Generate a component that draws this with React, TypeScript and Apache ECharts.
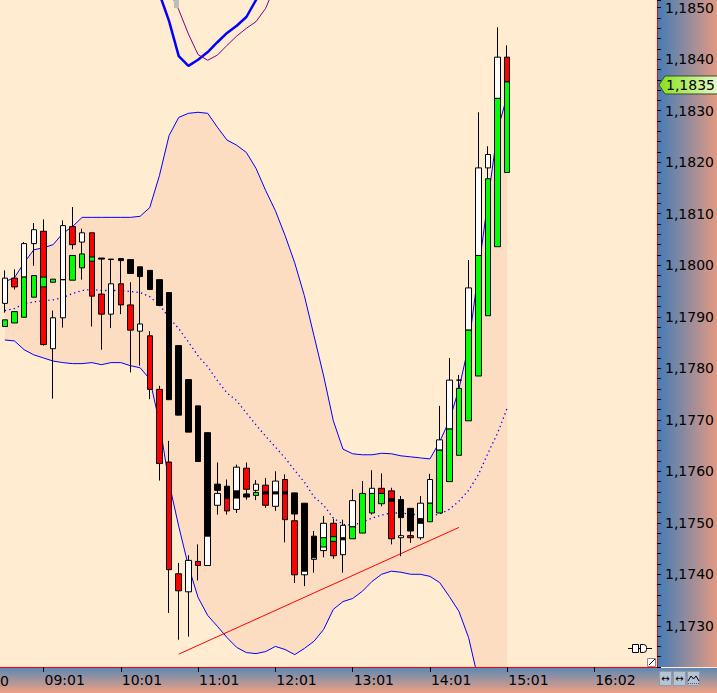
import React, { useEffect, useRef } from "react";
import * as echarts from "echarts";

// ---------- axis / slots ----------
const SLOT_COUNT = 68;
const tickSlots = [4, 12, 20, 28, 36, 44, 52, 61];
const tickLabels = ["09:01", "10:01", "11:01", "12:01", "13:01", "14:01", "15:01", "16:02"];

// ---------- candle series A (main bodies with wicks) ----------
const aTop = [1.17975, 1.17975, 1.18042, 1.18069, 1.18066, 1.17898, 1.18077, 1.18075, 1.18063, 1.18063, 1.17944, 1.17964, 1.17964, 1.17923, 1.17886, 1.17863, 1.17759, 1.17618, 1.17401, 1.17427, 1.17425, 1.17675, 1.17557, 1.17548, 1.17608, 1.17606, 1.17575, 1.17573, 1.17581, 1.17584, 1.17504, 1.17538, 1.17474, 1.17499, 1.17499, 1.17495, 1.17543, 1.17557, 1.17567, 1.17567, 1.17562, 1.17545, 1.17528, 1.17538, 1.17584, 1.17661, 1.17777, 1.17761, 1.17956, 1.18189, 1.18215, 1.18404, 1.18404];
const aBottom = [1.17926, 1.17958, 1.17977, 1.18042, 1.17846, 1.17838, 1.17898, 1.1804, 1.18045, 1.1794, 1.17905, 1.17905, 1.17923, 1.17874, 1.17872, 1.17759, 1.17615, 1.17409, 1.17368, 1.17366, 1.17417, 1.17474, 1.17534, 1.17523, 1.17526, 1.17565, 1.17563, 1.17534, 1.17532, 1.17506, 1.17399, 1.17406, 1.17432, 1.17446, 1.17436, 1.17438, 1.17492, 1.1748, 1.17557, 1.17557, 1.17469, 1.1751, 1.17484, 1.17471, 1.17538, 1.17641, 1.17682, 1.17631, 1.17874, 1.18019, 1.18189, 1.18324, 1.18356];
const aLow = [1.17908, 1.17953, 1.17977, 1.17999, 1.17844, 1.17741, 1.17879, 1.18031, 1.17972, 1.17881, 1.17836, 1.17878, 1.17905, 1.17792, 1.17805, 1.1774, 1.17582, 1.17325, 1.17273, 1.17279, 1.17388, 1.17474, 1.17516, 1.17516, 1.17519, 1.17545, 1.17544, 1.17529, 1.17523, 1.17462, 1.17383, 1.17377, 1.17403, 1.17433, 1.1743, 1.17403, 1.17492, 1.1748, 1.17516, 1.17532, 1.17458, 1.17435, 1.17461, 1.17467, 1.17538, 1.17641, 1.17682, 1.17631, 1.17874, 1.18019, 1.18168, 1.18324, 1.18356];
const aHigh = [1.1799, 1.17992, 1.18045, 1.18082, 1.18089, 1.17912, 1.18087, 1.18113, 1.18071, 1.18063, 1.18013, 1.18011, 1.18009, 1.17967, 1.17978, 1.17872, 1.17766, 1.17659, 1.17422, 1.17437, 1.17458, 1.17675, 1.17617, 1.17584, 1.17613, 1.17617, 1.17583, 1.17587, 1.176, 1.17594, 1.17558, 1.17538, 1.17484, 1.17513, 1.17508, 1.17506, 1.17565, 1.17581, 1.17602, 1.17596, 1.17568, 1.17552, 1.17528, 1.17552, 1.17595, 1.17727, 1.1782, 1.17787, 1.1801, 1.18297, 1.18231, 1.18462, 1.18427];
const aColor = ["w", "r", "w", "w", "r", "w", "w", "r", "w", "r", "r", "w", "r", "r", "w", "r", "r", "r", "r", "w", "r", "k", "w", "r", "w", "r", "w", "r", "w", "r", "r", "k", "k", "w", "r", "w", "w", "g", "w", "r", "r", "k", "k", "w", "w", "w", "w", "g", "w", "w", "w", "w", "r"];

// ---------- candle series B (overlay bodies) ----------
const bTop = [1.17894, 1.1791, 1.17977, 1.1798, 1.17977, 1.17973, 1.17972, 1.18019, 1.18022, 1.18016, 1.18014, 1.18012, 1.18013, 1.18011, 1.17997, 1.1799, 1.17972, 1.17947, 1.17844, 1.17778, 1.17727, 1.17474, 1.17575, 1.17571, 1.17562, 1.17556, 1.17559, 1.1756, 1.1756, 1.1756, 1.17558, 1.17406, 1.17432, 1.17471, 1.17473, 1.17471, 1.17492, null, 1.17557, 1.17557, 1.17547, 1.17475, 1.17475, 1.17508, 1.17538, 1.17641, 1.17682, 1.17777, 1.17874, 1.18019, 1.18168, 1.18324, 1.18356];
const bBottom = [1.17881, 1.17888, 1.17899, 1.17938, 1.17958, 1.17967, 1.17972, 1.17971, 1.17995, 1.18008, 1.18012, 1.18011, 1.18009, 1.17984, 1.17978, 1.17953, 1.17922, 1.17739, 1.17709, 1.17676, 1.17619, 1.17417, 1.17563, 1.17548, 1.17548, 1.1755, 1.17553, 1.17556, 1.17556, 1.17556, 1.17517, 1.17399, 1.17429, 1.17453, 1.17464, 1.17467, 1.17469, null, 1.17519, 1.17537, 1.17542, 1.17471, 1.17471, 1.17499, 1.17502, 1.17519, 1.1758, 1.17777, 1.17698, 1.17785, 1.17902, 1.18036, 1.1818];
const bColor = ["g", "g", "g", "g", "g", "g", "k", "g", "g", "g", "k", "k", "k", "k", "k", "k", "k", "k", "k", "k", "k", "w", "k", "k", "k", "k", "g", "k", "k", "k", "k", "w", "w", "g", "g", "k", "g", "", "g", "g", "k", "w", "r", "k", "g", "g", "g", "k", "g", "g", "g", "g", "g"];

// ---------- Bollinger-style bands ----------
const upperBand = [1.17968, 1.17976, 1.18005, 1.1803, 1.18034, 1.1804, 1.18062, 1.18075, 1.18093, 1.18093, 1.18093, 1.18093, 1.18093, 1.18093, 1.18095, 1.18112, 1.18174, 1.18252, 1.18287, 1.18295, 1.18297, 1.18295, 1.18268, 1.18243, 1.18233, 1.18219, 1.18188, 1.18145, 1.18106, 1.18058, 1.18005, 1.17941, 1.17863, 1.17785, 1.17698, 1.17643, 1.17634, 1.17632, 1.17632, 1.17635, 1.17634, 1.1763, 1.17628, 1.17626, 1.17624, 1.17657, 1.17698, 1.1776, 1.17844, 1.17986, 1.18126, 1.18262, 1.1833];
const lowerBand = [1.17855, 1.17853, 1.17836, 1.17826, 1.1782, 1.17814, 1.17811, 1.17809, 1.17809, 1.17811, 1.17807, 1.17811, 1.17811, 1.17805, 1.17801, 1.17779, 1.17694, 1.17577, 1.17493, 1.17416, 1.17355, 1.1732, 1.17299, 1.17277, 1.17258, 1.17248, 1.17246, 1.1725, 1.1726, 1.17254, 1.17244, 1.17256, 1.1727, 1.17293, 1.17332, 1.17347, 1.17353, 1.17367, 1.17386, 1.174, 1.17406, 1.17404, 1.174, 1.174, 1.17396, 1.17384, 1.17357, 1.17328, 1.17277, 1.17196, 1.17085, 1.17017, 1.16958];
const middleBand = [1.17912, 1.17916, 1.17925, 1.17929, 1.17931, 1.17933, 1.17937, 1.17945, 1.17951, 1.17953, 1.17951, 1.17951, 1.17951, 1.17949, 1.17947, 1.17939, 1.17923, 1.17898, 1.17877, 1.17851, 1.17824, 1.17803, 1.17776, 1.17752, 1.17737, 1.17713, 1.1769, 1.17668, 1.17647, 1.17626, 1.17602, 1.17579, 1.1755, 1.17534, 1.17509, 1.17497, 1.17495, 1.17501, 1.17509, 1.17515, 1.17519, 1.17519, 1.17517, 1.17515, 1.17513, 1.17517, 1.17526, 1.17542, 1.17563, 1.17593, 1.17635, 1.17674, 1.17723];

// ---------- upper indicator lines (V shape at the top) ----------
const vBlueStart = 15;
const vBlueValues = [1.18577, 1.18527, 1.18474, 1.18406, 1.18387, 1.18399, 1.18414, 1.18433, 1.18451, 1.18465, 1.18482, 1.18515, 1.18562];
const vPurpleStart = 16;
const vPurpleValues = [1.18583, 1.18534, 1.18496, 1.18449, 1.18409, 1.18398, 1.18408, 1.18427, 1.18445, 1.1846, 1.18473, 1.18499, 1.18544];

// ---------- trend line ----------
const trendSlots = ["18", "47"];
const trendValues = [1.17245, 1.17491];

const currentPrice = 1.1835;

const COLORS: Record<string, string> = { g: "#00ff00", r: "#ff0000", w: "#ffffff", k: "#000000" };

function placeSeries(start: number, values: number[]) {
  const out: (number | null)[] = [];
  for (let i = 0; i < SLOT_COUNT; i++) {
    const j = i - start;
    out.push(j >= 0 && j < values.length ? values[j] : null);
  }
  return out;
}

function candleItem(o: number, c: number, l: number, h: number, code: string) {
  const col = COLORS[code];
  return {
    value: [o, c, l, h],
    itemStyle: {
      color: col,
      color0: col,
      borderColor: "#000",
      borderColor0: "#000",
      borderColorDoji: "#000",
      borderWidth: 1,
    },
  };
}

export default function App() {
  const ref = useRef<HTMLDivElement>(null);

  useEffect(() => {
    if (!ref.current) return;
    const chart = echarts.init(ref.current, null, { renderer: "svg" });
    const categories = Array.from({ length: SLOT_COUNT }, (_, i) => String(i));

    const candleA = aTop.map((t, i) => candleItem(t, aBottom[i], aLow[i], aHigh[i], aColor[i]));
    const candleB = bTop.map((t, i) =>
      t == null ? ["-", "-", "-", "-"] : candleItem(t, bBottom[i] as number, bBottom[i] as number, t, bColor[i])
    );
    const bandDiff = upperBand.map((u, i) => +(u - lowerBand[i]).toFixed(5));
    const font = "DejaVu Sans";

    chart.setOption({
      animation: false,
      backgroundColor: "#FFECD1",
      grid: { left: -1, right: 60, top: 0, bottom: 26 },
      xAxis: {
        type: "category",
        data: categories,
        boundaryGap: true,
        z: 5,
        axisLine: { show: true, lineStyle: { color: "#ff0000", width: 1 } },
        axisTick: {
          show: true,
          alignWithLabel: true,
          interval: (i: number) => tickSlots.includes(i),
          length: 5,
          lineStyle: { color: "#000" },
        },
        axisLabel: {
          interval: (i: number) => tickSlots.includes(i),
          formatter: (_v: string, i: number) => {
            const k = tickSlots.indexOf(i);
            return k >= 0 ? tickLabels[k] : "";
          },
          align: "left",
          margin: 6,
          padding: [0, 0, 0, 1],
          fontSize: 14,
          fontFamily: font,
          color: "#000",
        },
        splitLine: { show: false },
      },
      yAxis: {
        type: "value",
        position: "right",
        min: 1.1722,
        max: 1.18515,
        interval: 0.0002,
        z: 5,
        splitLine: { show: false },
        axisLine: { show: true, lineStyle: { color: "#ff0000", width: 1 } },
        axisTick: { show: true, length: 4, lineStyle: { color: "#000" } },
        axisLabel: {
          margin: 8,
          fontSize: 14,
          fontFamily: font,
          color: "#000",
          formatter: (v: number) => {
            const n = Math.round(v * 10000);
            return n % 10 === 0 ? (n / 10000).toFixed(4).replace(".", ",") : "";
          },
        },
      },
      series: [
        {
          name: "bandBase",
          type: "line",
          data: lowerBand,
          stack: "band",
          symbol: "none",
          silent: true,
          lineStyle: { opacity: 0 },
          z: 1,
        },
        {
          name: "bandFill",
          type: "line",
          data: bandDiff,
          stack: "band",
          symbol: "none",
          silent: true,
          lineStyle: { opacity: 0 },
          areaStyle: { color: "#FCDDC1", opacity: 1 },
          z: 1,
        },
        {
          name: "upper",
          type: "line",
          data: upperBand,
          symbol: "none",
          silent: true,
          lineStyle: { color: "#0000ff", width: 1 },
          z: 2,
        },
        {
          name: "lower",
          type: "line",
          data: lowerBand,
          symbol: "none",
          silent: true,
          lineStyle: { color: "#0000ff", width: 1 },
          z: 2,
        },
        {
          name: "middle",
          type: "line",
          data: middleBand,
          symbol: "none",
          silent: true,
          lineStyle: { color: "#0000ff", width: 1.3, type: [1.3, 3.2] },
          z: 2,
        },
        {
          name: "vBlue",
          type: "line",
          data: placeSeries(vBlueStart, vBlueValues),
          symbol: "none",
          silent: true,
          lineStyle: { color: "#0000ff", width: 2.5 },
          z: 2,
        },
        {
          name: "vPurple",
          type: "line",
          data: placeSeries(vPurpleStart, vPurpleValues),
          symbol: "none",
          silent: true,
          lineStyle: { color: "#800080", width: 1 },
          z: 2,
        },
        {
          name: "trend",
          type: "line",
          data: trendSlots.map((s, i) => [s, trendValues[i]]),
          symbol: "none",
          silent: true,
          lineStyle: { color: "#ff0000", width: 1 },
          z: 2,
        },
        {
          name: "candlesA",
          type: "candlestick",
          data: candleA,
          barWidth: 6,
          silent: true,
          z: 3,
        },
        {
          name: "candlesB",
          type: "candlestick",
          data: candleB,
          barWidth: 6,
          silent: true,
          z: 4,
        },
      ],
    });

    const yTag = chart.convertToPixel({ yAxisIndex: 0 }, currentPrice) as number;
    const lg = (x2: number, y2: number, c1: string, c2: string) =>
      new echarts.graphic.LinearGradient(0, 0, x2, y2, [
        { offset: 0, color: c1 },
        { offset: 1, color: c2 },
      ]);

    chart.setOption({
      graphic: [
        {
          type: "rect",
          z: 0,
          silent: true,
          shape: { x: 658, y: 0, width: 59, height: 667 },
          style: { fill: lg(1, 0, "#457CB6", "#E39A82") },
        },
        {
          type: "rect",
          z: 0,
          silent: true,
          shape: { x: 0, y: 668, width: 717, height: 25 },
          style: { fill: lg(0, 1, "#5F88B4", "#EEA182") },
        },
        {
          type: "text",
          z: 10,
          x: 9,
          y: 681,
          style: { text: "0", font: `14px "${font}"`, fill: "#000", textAlign: "right", textVerticalAlign: "middle" },
        },
        // small grey marker at the top
        { type: "rect", z: 10, silent: true, shape: { x: 174, y: 0, width: 5, height: 8 }, style: { fill: "#bdbdbd" } },
        // connector icon
        { type: "line", z: 10, silent: true, shape: { x1: 628, y1: 648.5, x2: 652, y2: 648.5 }, style: { stroke: "#000", lineWidth: 1 } },
        { type: "rect", z: 11, silent: true, shape: { x: 632.5, y: 644.5, width: 6, height: 8 }, style: { fill: "#fff", stroke: "#000", lineWidth: 1 } },
        { type: "rect", z: 11, silent: true, shape: { x: 640.5, y: 644.5, width: 6, height: 8, r: [0, 3, 3, 0] }, style: { fill: "#fff", stroke: "#000", lineWidth: 1 } },
        // corner square
        { type: "rect", z: 11, silent: true, shape: { x: 647.5, y: 658.5, width: 8, height: 8 }, style: { fill: "#fff", stroke: "#888", lineWidth: 1 } },
        { type: "line", z: 12, silent: true, shape: { x1: 649, y1: 665, x2: 655, y2: 659 }, style: { stroke: "#000", lineWidth: 1 } },
        // buttons bottom right
        ...[0, 1, 2].map((k) => ({
          type: "rect",
          z: 11,
          silent: true,
          shape: { x: 659.5 + k * 14, y: 671.5, width: 12, height: 14 },
          style: { fill: "#B7C2D2", stroke: "#8E9BB0", lineWidth: 1 },
        })),
        { type: "text", z: 12, x: 665.5, y: 678.5, style: { text: "↔", font: `10px "${font}"`, fill: "#000", textAlign: "center", textVerticalAlign: "middle" } },
        { type: "text", z: 12, x: 679.5, y: 678.5, style: { text: "↔", font: `10px "${font}"`, fill: "#000", textAlign: "center", textVerticalAlign: "middle" } },
        { type: "polyline", z: 12, silent: true, shape: { points: [[688, 681], [691, 676], [693.5, 679], [696, 676], [699, 681]] }, style: { stroke: "#000", lineWidth: 1, fill: "none" } },
        { type: "line", z: 12, silent: true, shape: { x1: 688, y1: 683.5, x2: 699, y2: 683.5 }, style: { stroke: "#555", lineWidth: 1, lineDash: [1, 1] } },
        // current price tag
        {
          type: "polygon",
          z: 20,
          silent: true,
          shape: {
            points: [
              [659, yTag],
              [665, yTag - 9],
              [718, yTag - 9],
              [718, yTag + 9],
              [665, yTag + 9],
            ],
          },
          style: { fill: lg(1, 0, "#86E21A", "#E8F8CC"), stroke: "#3a4a30", lineWidth: 1 },
        },
        {
          type: "text",
          z: 21,
          x: 666,
          y: yTag,
          style: {
            text: currentPrice.toFixed(4).replace(".", ","),
            font: `14px "${font}"`,
            fill: "#000",
            textAlign: "left",
            textVerticalAlign: "middle",
          },
        },
      ],
    });

    return () => chart.dispose();
  }, []);

  return (
    <div
      ref={ref}
      style={{ position: "fixed", left: 0, top: 0, width: 717, height: 693 }}
    />
  );
}
